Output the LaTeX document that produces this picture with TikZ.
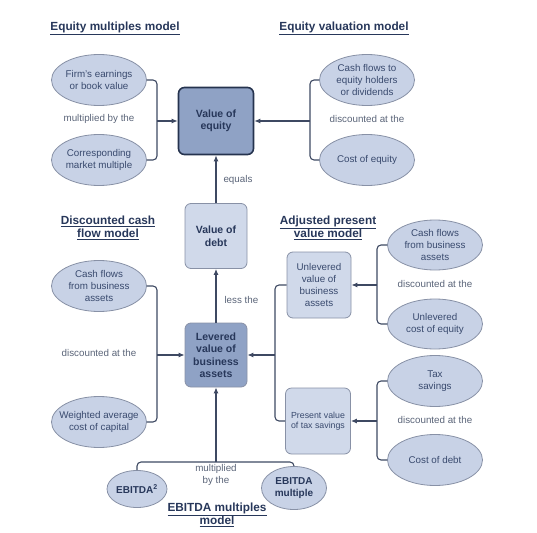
\documentclass[tikz,border=0pt]{standalone}
\usepackage{fontspec}
\setmainfont{Liberation Sans}
\usetikzlibrary{shapes,arrows.meta,positioning}
\definecolor{ovalfill}{HTML}{C8D2E6}
\definecolor{ovalline}{HTML}{8891A6}
\definecolor{lightfill}{HTML}{D0D9EA}
\definecolor{darkfill}{HTML}{8FA2C5}
\definecolor{darkline}{HTML}{25334E}
\definecolor{lineclr}{HTML}{3E4962}
\definecolor{bodytext}{HTML}{394A6E}
\definecolor{headtext}{HTML}{27375A}
\definecolor{labeltext}{HTML}{5A6478}

\tikzset{
  oval/.style={ellipse, draw=ovalline, fill=ovalfill, line width=0.8pt,
    minimum width=95pt, minimum height=51pt, inner sep=0pt, align=center,
    text=bodytext, font=\fontsize{9.8}{12}\selectfont},
  lightbox/.style={rectangle, rounded corners=6pt, draw=ovalline, fill=lightfill,
    line width=0.8pt, minimum width=62pt, minimum height=65pt, inner sep=0pt,
    align=center, text=bodytext, font=\fontsize{9.8}{12}\selectfont},
  darkbox/.style={lightbox, fill=darkfill, text=headtext,
    font=\bfseries\fontsize{10.5}{12.5}\selectfont},
  steplabel/.style={text=labeltext, align=center, font=\fontsize{9.8}{12}\selectfont},
  heading/.style={text=headtext, align=center, font=\bfseries\fontsize{11.8}{13.5}\selectfont},
  conn/.style={draw=lineclr, line width=1.1pt, rounded corners=4pt},
  arr/.style={draw=lineclr, line width=1.1pt, -{Latex[length=6pt,width=5pt]}}
}

\begin{document}
\begin{tikzpicture}[x=1pt, y=-1pt]
  \useasboundingbox (0,0) rectangle (537,532);
  % headings
  \node[heading] (hmult) at (115,28) {\underline{Equity multiples model}};
  \node[heading] (hval) at (344,28) {\underline{Equity valuation model}};
  \node[heading] (hdcf) at (108,228) {\underline{Discounted cash}\\\underline{flow model}};
  \node[heading] (hapv) at (328,228) {\underline{Adjusted present}\\\underline{value model}};
  \node[heading] (hebitda) at (217,515) {\underline{EBITDA multiples}\\\underline{model}};

  % centre column
  \node[darkbox, draw=darkline, line width=1.6pt, minimum width=75pt, minimum height=67pt]
    (equity) at (216,121) {Value of\\equity};
  \node[lightbox, text=headtext, font=\bfseries\fontsize{10.5}{12.5}\selectfont]
    (debt) at (216,236) {Value of\\debt};
  \node[darkbox, minimum height=64pt] (levered) at (216,355) {Levered\\value of\\business\\assets};

  % equity multiples
  \node[oval] (earn) at (99,80) {Firm's earnings\\or book value};
  \node[steplabel] (lmult) at (99,119) {multiplied by the};
  \node[oval] (mmult) at (99,160) {Corresponding\\market multiple};
  \coordinate (jmult) at (157,121);
  \draw[conn] (earn.east) -| (jmult) |- (mmult.east);
  \draw[arr] (jmult) -- (equity.west);

  % equity valuation
  \node[oval] (cfeq) at (367,80) {Cash flows to\\equity holders\\or dividends};
  \node[steplabel] (lval) at (367,119) {discounted at the};
  \node[oval] (coe) at (367,160) {Cost of equity};
  \coordinate (jval) at (310,121);
  \draw[conn] (cfeq.west) -| (jval) |- (coe.west);
  \draw[arr] (jval) -- (equity.east);

  % centre links
  \draw[arr] (debt) -- (equity);
  \node[steplabel, anchor=west] (lequals) at (220,180) {equals};
  \draw[arr] (levered) -- (debt);
  \node[steplabel, anchor=west] (lless) at (221,300) {less the};

  % discounted cash flow
  \node[oval] (cfba) at (99,286) {Cash flows\\from business\\assets};
  \node[steplabel] (ldcf) at (99,353) {discounted at the};
  \node[oval, inner xsep=-12pt] (wacc) at (99,422) {Weighted average\\cost of capital};
  \coordinate (jdcf) at (157,355);
  \draw[conn] (cfba.east) -| (jdcf) |- (wacc.east);
  \draw[arr] (jdcf) -- (levered.west);

  % adjusted present value
  \node[lightbox, minimum width=64pt, minimum height=66pt] (unlev) at (319,285)
    {Unlevered\\value of\\business\\assets};
  \node[lightbox, minimum width=65pt, minimum height=66pt,
    font=\fontsize{8.8}{10.5}\selectfont] (pvts) at (318,421) {Present value\\of tax savings};
  \coordinate (japv) at (275,355);
  \draw[conn] (unlev.west) -| (japv) |- (pvts.west);
  \draw[arr] (japv) -- (levered.east);

  \node[oval, minimum height=50pt] (cfba2) at (435,245) {Cash flows\\from business\\assets};
  \node[steplabel] (lunlev) at (435,284) {discounted at the};
  \node[oval, minimum height=50pt] (ucoe) at (435,324) {Unlevered\\cost of equity};
  \coordinate (junlev) at (377,285);
  \draw[conn] (cfba2.west) -| (junlev) |- (ucoe.west);
  \draw[arr] (junlev) -- (unlev.east);

  \node[oval] (tax) at (435,381) {Tax\\savings};
  \node[steplabel] (ltax) at (435,420) {discounted at the};
  \node[oval] (cod) at (435,460) {Cost of debt};
  \coordinate (jtax) at (377,421);
  \draw[conn] (tax.west) -| (jtax) |- (cod.west);
  \draw[arr] (jtax) -- (pvts.east);

  % EBITDA multiples
  \node[oval, minimum width=60pt, minimum height=37pt, text=headtext,
    font=\bfseries\fontsize{10}{12}\selectfont] (ebitda) at (137,489) {EBITDA\textsuperscript{2}};
  \node[oval, minimum width=65pt, minimum height=43pt, text=headtext,
    font=\bfseries\fontsize{10}{12}\selectfont] (emult) at (294,488) {EBITDA\\multiple};
  \node[steplabel] (lebitda) at (216,475) {multiplied\\by the};
  \coordinate (jebitda) at (216,462);
  \draw[conn] (ebitda.north) |- (jebitda) -| (emult.north);
  \draw[arr] (jebitda) -- (levered.south);
\end{tikzpicture}
\end{document}
